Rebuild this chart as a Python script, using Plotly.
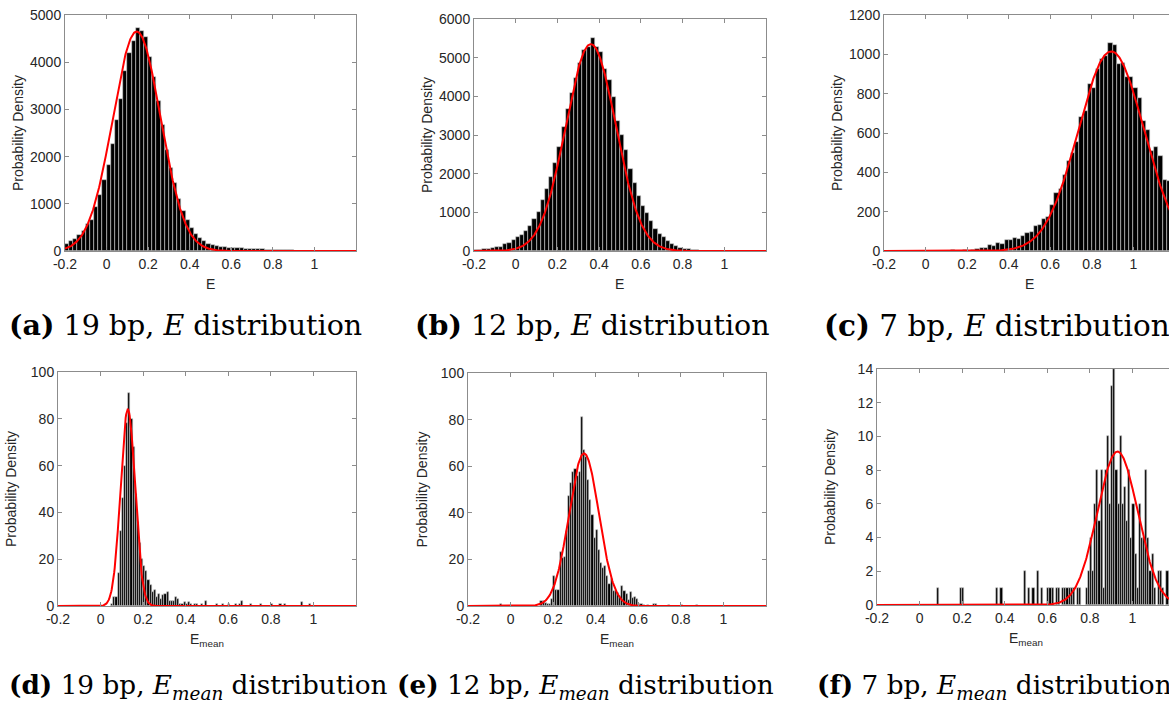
import numpy as np
import plotly.graph_objects as go

W, H = 1169, 703

# ---------------- data ----------------
PANELS = ["a", "b", "c", "d", "e", "f"]

# (a) 19 bp, E : bins of width 0.02 starting at -0.2
A_START, A_WIDTH = -0.2, 0.02
A_VALUES = [140, 210, 260, 330, 430, 570, 660, 930, 1180, 1500,
            1830, 2260, 2780, 3220, 3810, 4200, 4450, 4730, 4660, 4530,
            4100, 3690, 3170, 2680, 2150, 1760, 1450, 1100, 850, 650,
            480, 370, 280, 210, 150, 120, 100, 90, 80, 70,
            65, 60, 55, 50, 45, 40, 40, 35, 30, 30,
            25, 25, 20, 25, 15, 10, 8, 5, 8, 5,
            8, 5, 3]

# (b) 12 bp, E
B_START, B_WIDTH = -0.2, 0.02
B_VALUES = [25, 35, 60, 60, 70, 100, 110, 180, 200, 285,
            350, 410, 510, 650, 820, 1000, 1310, 1610, 1920, 2280,
            2700, 3200, 3660, 4090, 4470, 4850, 5200, 5280, 5500, 5280,
            5140, 4700, 4420, 3980, 3370, 3000, 2610, 2130, 1760, 1410,
            1170, 990, 770, 580, 450, 350, 260, 180, 130, 90,
            60, 40, 25, 15, 10, 6, 4, 3, 2, 2]

# (c) 7 bp, E
C_START, C_WIDTH = -0.2, 0.02
C_VALUES = [0, 0, 0, 0, 0, 0, 0, 0, 0, 0,
            0, 0, 0, 0, 0, 0, 7, 0, 0, 5,
            0, 5, 8, 15, 15, 29, 27, 42, 37, 54,
            54, 68, 63, 75, 93, 97, 129, 130, 163, 175,
            232, 293, 317, 385, 459, 500, 554, 681, 713, 847,
            827, 924, 975, 992, 1056, 1046, 949, 958, 883, 886,
            827, 778, 661, 615, 508, 527, 483, 361, 356]

# (d) 19 bp, E_mean : bins of width 0.01
D_LEFTS = [0.05, 0.06, 0.07, 0.08, 0.09, 0.10, 0.11, 0.12, 0.13, 0.14,
           0.15, 0.16, 0.17, 0.18, 0.19, 0.20, 0.21, 0.22, 0.23, 0.24,
           0.25, 0.26, 0.27, 0.28, 0.29, 0.30, 0.31, 0.32, 0.33, 0.34,
           0.35, 0.36, 0.37, 0.38, 0.39, 0.40, 0.41, 0.42, 0.44, 0.45,
           0.47, 0.49, 0.54, 0.57, 0.60, 0.63, 0.65, 0.66, 0.70, 0.75,
           0.80, 0.84, 0.86, 0.94, 0.98]
D_VALUES = [1, 4, 4, 14, 32, 46, 60, 78, 91, 80,
            68, 48, 36, 27, 20, 17, 15, 11, 9, 6,
            7, 4, 5, 3, 4.5, 5, 6, 2, 2, 2,
            4, 3, 1, 1, 1.5, 1, 1.5, 1, 1, 1,
            1, 2, 1, 1, 1, 1, 1, 2, 1, 1,
            1, 1, 1, 1.5, 1]
D_WIDTH = 0.01

# (e) 12 bp, E_mean
E_LEFTS = [-0.05, 0.14, 0.15, 0.16, 0.17, 0.18, 0.19, 0.20, 0.21, 0.22,
           0.23, 0.24, 0.25, 0.26, 0.27, 0.28, 0.29, 0.30, 0.31, 0.32,
           0.33, 0.34, 0.35, 0.36, 0.37, 0.38, 0.39, 0.40, 0.41, 0.42,
           0.43, 0.44, 0.45, 0.46, 0.47, 0.48, 0.49, 0.50, 0.51, 0.52,
           0.53, 0.54, 0.55, 0.56, 0.57, 0.58, 0.59, 0.60, 0.61, 0.62,
           0.64, 0.67, 0.68, 0.74, 0.80, 0.87]
E_VALUES = [1, 2, 2, 1.5, 1, 1, 3, 13, 7, 7,
            23, 20.5, 21, 32, 47, 53, 57.5, 59, 56, 57.5,
            81, 67, 64, 54, 45.5, 39, 29, 32.5, 24, 18.5,
            16.5, 17, 13, 9.5, 11.5, 6.5, 6.5, 5.5, 4.5, 8.5,
            6.5, 5, 2.5, 6, 3.5, 4, 3, 1, 1, 0.5,
            0.5, 1, 1, 0.5, 0.5, 0.5]
E_WIDTH = 0.01

# (f) 7 bp, E_mean
F_LEFTS = [0.08, 0.19, 0.20, 0.36, 0.38, 0.49, 0.51, 0.53, 0.55, 0.57,
           0.60, 0.61, 0.62, 0.64, 0.65, 0.67, 0.68, 0.69, 0.70, 0.71,
           0.72, 0.74, 0.75, 0.78, 0.79, 0.80, 0.81, 0.82, 0.83, 0.84,
           0.85, 0.86, 0.87, 0.88, 0.89, 0.90, 0.91, 0.92, 0.93, 0.94,
           0.95, 0.96, 0.97, 0.98, 0.99, 1.00, 1.01, 1.02, 1.03, 1.04,
           1.05, 1.06, 1.07, 1.08, 1.09, 1.10, 1.12, 1.13, 1.14, 1.16]
F_VALUES = [1, 1, 1, 1, 1, 2, 1, 1, 2, 1,
            1, 1, 1, 1, 1, 1, 1, 1, 1, 1,
            1, 1, 1, 1, 2, 4, 2, 6, 8, 5,
            8, 1, 8, 10, 6, 13, 14, 8, 6, 10,
            6, 7, 5, 8, 4, 6, 3, 1, 6, 4,
            4, 8, 4, 2, 3, 1, 2, 2, 1, 2]
F_WIDTH = 0.01

# Gaussian fits (mean, sigma, peak height) per panel
FIT_MU = {"a": 0.145, "b": 0.36, "c": 0.893, "d": 0.128, "e": 0.345, "f": 0.93}
FIT_SIGMA = {"a": 0.115, "b": 0.12, "c": 0.158, "d": 0.034, "e": 0.07, "f": 0.095}
FIT_PEAK = {"a": 4650, "b": 5350, "c": 1015, "d": 84, "e": 65.5, "f": 9.1}

Y_TICKS = {
    "a": [0, 1000, 2000, 3000, 4000, 5000],
    "b": [0, 1000, 2000, 3000, 4000, 5000, 6000],
    "c": [0, 200, 400, 600, 800, 1000, 1200],
    "d": [0, 20, 40, 60, 80, 100],
    "e": [0, 20, 40, 60, 80, 100],
    "f": [0, 2, 4, 6, 8, 10, 12, 14],
}
X_TICKS = [-0.2, 0, 0.2, 0.4, 0.6, 0.8, 1]
X_TICKTEXT = ["-0.2", "0", "0.2", "0.4", "0.6", "0.8", "1"]

X_TITLES = {"a": "E", "b": "E", "c": "E",
            "d": "E<sub>mean</sub>", "e": "E<sub>mean</sub>", "f": "E<sub>mean</sub>"}
CAPTIONS = {
    "a": "<b>(a)</b> 19 bp, <i>E</i> distribution",
    "b": "<b>(b)</b> 12 bp, <i>E</i> distribution",
    "c": "<b>(c)</b> 7 bp, <i>E</i> distribution",
    "d": "<b>(d)</b> 19 bp, <i>E<sub>mean</sub></i> distribution",
    "e": "<b>(e)</b> 12 bp, <i>E<sub>mean</sub></i> distribution",
    "f": "<b>(f)</b> 7 bp, <i>E<sub>mean</sub></i> distribution",
}

# ---------------- layout geometry (pixels) ----------------
BOX = {  # left, right, top, bottom
    "a": (65, 356, 15, 251),
    "b": (474, 766, 19, 251),
    "c": (884, 1175, 15, 251),
    "d": (58, 356, 372, 606),
    "e": (468, 766, 373, 606),
    "f": (877, 1175, 369, 605),
}
CAPTION_POS = {"a": (7, 325), "b": (413, 325), "c": (822, 325),
               "d": (7, 686), "e": (395, 686), "f": (815, 686)}
CAPTION_SIZE = {"a": 28.5, "b": 28.5, "c": 29.5, "d": 26.3, "e": 26.3, "f": 26.3}

hist = {
    "a": (A_START + A_WIDTH * (np.arange(len(A_VALUES)) + 0.5), A_VALUES, A_WIDTH),
    "b": (B_START + B_WIDTH * (np.arange(len(B_VALUES)) + 0.5), B_VALUES, B_WIDTH),
    "c": (C_START + C_WIDTH * (np.arange(len(C_VALUES)) + 0.5), C_VALUES, C_WIDTH),
    "d": (np.array(D_LEFTS) + D_WIDTH / 2, D_VALUES, D_WIDTH),
    "e": (np.array(E_LEFTS) + E_WIDTH / 2, E_VALUES, E_WIDTH),
    "f": (np.array(F_LEFTS) + F_WIDTH / 2, F_VALUES, F_WIDTH),
}

AXIS_COLOR = "#8c8c8c"
TEXT_COLOR = "#262626"
LABEL_FONT = dict(family="Liberation Sans, Arial, sans-serif", size=14, color=TEXT_COLOR)

fig = go.Figure()
layout = dict(width=W, height=H, margin=dict(l=0, r=0, t=0, b=0, autoexpand=False),
              paper_bgcolor="white", plot_bgcolor="white",
              showlegend=False, bargap=0, annotations=[])

xfit = np.linspace(-0.2, 1.2, 600)
for i, p in enumerate(PANELS):
    n = "" if i == 0 else str(i + 1)
    xa, ya = "x" + n, "y" + n
    l, r, t, b = BOX[p]
    full_w = r - l
    r_vis = min(r, W)
    x_hi = -0.2 + 1.4 * (r_vis - l) / full_w
    xc, yv, wdt = hist[p]
    fig.add_trace(go.Bar(x=xc, y=yv, width=wdt, xaxis=xa, yaxis=ya,
                         marker=dict(color="black", line=dict(color="#d0d0d0", width=0.6))))
    yfit = FIT_PEAK[p] * np.exp(-(xfit - FIT_MU[p]) ** 2 / (2 * FIT_SIGMA[p] ** 2))
    fig.add_trace(go.Scatter(x=xfit, y=yfit, mode="lines", xaxis=xa, yaxis=ya,
                             line=dict(color="#ff0000", width=2)))
    yt = Y_TICKS[p]
    clipped = r > W
    layout["xaxis" + n] = dict(
        domain=[l / W, r_vis / W], range=[-0.2, x_hi], anchor=ya, automargin=False,
        tickvals=X_TICKS, ticktext=X_TICKTEXT, ticks="inside", ticklen=4,
        tickcolor=AXIS_COLOR, showline=True, linecolor=AXIS_COLOR, linewidth=1,
        mirror="ticks", showgrid=False, zeroline=False,
        tickfont=LABEL_FONT, fixedrange=True)
    layout["yaxis" + n] = dict(
        domain=[1 - b / H, 1 - t / H], range=[0, yt[-1]], anchor=xa, automargin=False,
        tickvals=yt, ticks="inside", ticklen=4, tickcolor=AXIS_COLOR,
        showline=True, linecolor=AXIS_COLOR, linewidth=1,
        mirror=False if clipped else "ticks", showgrid=False, zeroline=False,
        tickfont=LABEL_FONT, fixedrange=True)
    # axis titles
    layout["annotations"].append(dict(
        text=X_TITLES[p], xref="paper", yref="paper",
        x=(l + full_w / 2) / W, y=1 - (b + 23) / H, xanchor="center", yanchor="top",
        showarrow=False, font=LABEL_FONT))
    layout["annotations"].append(dict(
        text="Probability Density", xref="paper", yref="paper", textangle=-90,
        x=(l - 47) / W, y=1 - ((t + b) / 2) / H, xanchor="center", yanchor="middle",
        showarrow=False, font=LABEL_FONT))
    cx, cy = CAPTION_POS[p]
    layout["annotations"].append(dict(
        text=CAPTIONS[p], xref="paper", yref="paper", x=cx / W, y=1 - cy / H,
        xanchor="left", yanchor="middle", showarrow=False,
        font=dict(family="DejaVu Serif, serif", size=CAPTION_SIZE[p], color="black")))

fig.update_layout(**layout)
fig.write_html("out.html", config={"displayModeBar": False},
               post_script="document.body.style.margin='0px';document.body.style.overflow='hidden';")
